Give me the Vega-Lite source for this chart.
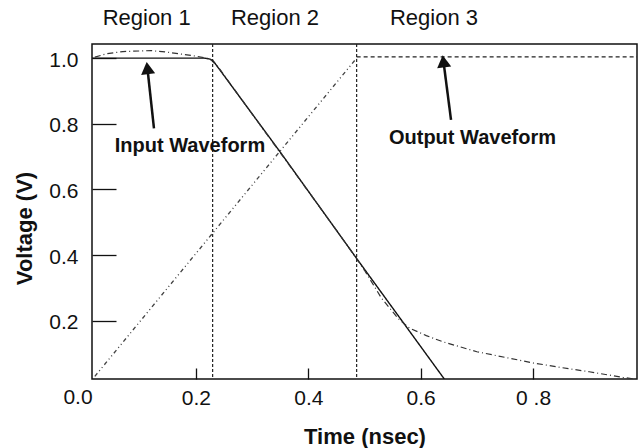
{
  "$schema": "https://vega.github.io/schema/vega-lite/v6.json",
  "width": 545,
  "height": 335,
  "autosize": {"type": "none"},
  "padding": {"left": 92, "top": 44, "right": 1, "bottom": 69},
  "background": "white",
  "config": {
    "view": {"stroke": "#111", "strokeWidth": 1.5},
    "font": "Liberation Sans",
    "axis": {"grid": false, "domain": false, "labelFont": "Liberation Sans", "titleFont": "Liberation Sans", "labelColor": "#111", "titleColor": "#111", "tickColor": "#111"}
  },
  "datasets": {
    "curves": [
      {"series": "Input", "t": 0.015, "v": 1.0},
      {"series": "Input", "t": 0.215, "v": 1.0},
      {"series": "Input", "t": 0.225, "v": 0.997},
      {"series": "Input", "t": 0.231, "v": 0.991},
      {"series": "Input", "t": 0.35, "v": 0.714},
      {"series": "Input", "t": 0.486, "v": 0.39},
      {"series": "Input", "t": 0.642, "v": 0.023},
      {"series": "Ramp", "t": 0.02, "v": 0.031},
      {"series": "Ramp", "t": 0.486, "v": 1.0},
      {"series": "Output", "t": 0.486, "v": 1.004},
      {"series": "Output", "t": 0.985, "v": 1.004},
      {"series": "Tail", "t": 0.02, "v": 1.003},
      {"series": "Tail", "t": 0.04, "v": 1.013},
      {"series": "Tail", "t": 0.07, "v": 1.02},
      {"series": "Tail", "t": 0.12, "v": 1.023},
      {"series": "Tail", "t": 0.15, "v": 1.018},
      {"series": "Tail", "t": 0.175, "v": 1.012},
      {"series": "Tail", "t": 0.2, "v": 1.006},
      {"series": "Tail", "t": 0.225, "v": 0.998},
      {"series": "Tail", "t": 0.24, "v": 0.972},
      {"series": "Tail", "t": 0.3, "v": 0.83},
      {"series": "Tail", "t": 0.4, "v": 0.594},
      {"series": "Tail", "t": 0.45, "v": 0.476},
      {"series": "Tail", "t": 0.48, "v": 0.404},
      {"series": "Tail", "t": 0.5, "v": 0.354},
      {"series": "Tail", "t": 0.53, "v": 0.27},
      {"series": "Tail", "t": 0.56, "v": 0.207},
      {"series": "Tail", "t": 0.58, "v": 0.178},
      {"series": "Tail", "t": 0.61, "v": 0.155},
      {"series": "Tail", "t": 0.64, "v": 0.136},
      {"series": "Tail", "t": 0.7, "v": 0.106},
      {"series": "Tail", "t": 0.75, "v": 0.089},
      {"series": "Tail", "t": 0.8, "v": 0.072},
      {"series": "Tail", "t": 0.85, "v": 0.058},
      {"series": "Tail", "t": 0.9, "v": 0.045},
      {"series": "Tail", "t": 0.96, "v": 0.028},
      {"series": "Tail", "t": 0.985, "v": 0.022}
    ],
    "regions": [{"t": 0.2297}, {"t": 0.486}],
    "regionLabels": [
      {"t": 0.1123, "v": 1.101, "text": "Region 1"},
      {"t": 0.3407, "v": 1.101, "text": "Region 2"},
      {"t": 0.6237, "v": 1.101, "text": "Region 3"}
    ],
    "zeroLabel": [{"t": -0.0099, "v": 0.0, "text": "0.0"}],
    "notes": [
      {"t": 0.1894, "v": 0.715, "text": "Input Waveform"},
      {"t": 0.6922, "v": 0.7385, "text": "Output Waveform"}
    ],
    "arrows": [
      {"t": 0.1253, "v": 0.786, "t2": 0.1136, "v2": 0.9699},
      {"t": 0.654, "v": 0.812, "t2": 0.6405, "v2": 0.9905}
    ]
  },
  "layer": [
    {
      "data": {"name": "curves"},
      "mark": {"type": "line", "clip": true},
      "encoding": {
        "x": {
          "field": "t", "type": "quantitative",
          "scale": {"domain": [0.015, 0.985], "nice": false, "zero": false},
          "axis": {
            "values": [0.2, 0.4, 0.6, 0.8],
            "labelExpr": "datum.value == 0.8 ? '0 .8' : format(datum.value, '.1f')",
            "tickSize": -11,
            "tickWidth": 1.3,
            "labelFlush": false,
            "labelFontSize": 21,
            "labelPadding": 19,
            "title": "Time (nsec)",
            "titleFontSize": 22,
            "titleFontWeight": "bold",
            "titleX": 272.5,
            "titleY": 64,
            "titleBaseline": "alphabetic"
          }
        },
        "y": {
          "field": "v", "type": "quantitative",
          "scale": {"domain": [0.023, 1.043], "nice": false, "zero": false},
          "axis": {
            "values": [0.2, 0.4, 0.6, 0.8, 1.0],
            "format": ".1f",
            "tickSize": -24,
            "tickWidth": 1.3,
            "labelFontSize": 21,
            "labelPadding": 38,
            "labelOffset": 2,
            "title": "Voltage (V)",
            "titleFontSize": 22,
            "titleFontWeight": "bold",
            "titleX": -60.5,
            "titleY": 184,
            "titleBaseline": "alphabetic"
          }
        },
        "detail": {"field": "series"},
        "color": {"field": "series", "type": "nominal", "legend": null,
          "scale": {"domain": ["Input", "Ramp", "Output", "Tail"], "range": ["#111111", "#444444", "#222222", "#333333"]}},
        "strokeDash": {"field": "series", "type": "nominal", "legend": null,
          "scale": {"domain": ["Input", "Ramp", "Output", "Tail"], "range": [[1, 0], [4, 3, 1, 3, 1, 3], [4, 3], [6, 3, 1, 3]]}},
        "strokeWidth": {"field": "series", "type": "nominal", "legend": null,
          "scale": {"domain": ["Input", "Ramp", "Output", "Tail"], "range": [1.4, 1.2, 1.1, 1.2]}}
      }
    },
    {
      "data": {"name": "regions"},
      "mark": {"type": "rule", "color": "#222", "strokeWidth": 1.2, "strokeDash": [3, 2]},
      "encoding": {"x": {"field": "t", "type": "quantitative"}}
    },
    {
      "data": {"name": "regionLabels"},
      "mark": {"type": "text", "fontSize": 22, "color": "#111", "baseline": "alphabetic", "align": "center", "clip": false},
      "encoding": {
        "x": {"field": "t", "type": "quantitative"},
        "y": {"field": "v", "type": "quantitative"},
        "text": {"field": "text"}
      }
    },
    {
      "data": {"name": "zeroLabel"},
      "mark": {"type": "text", "fontSize": 21, "color": "#111", "baseline": "top", "align": "center", "clip": false},
      "encoding": {
        "x": {"field": "t", "type": "quantitative"},
        "y": {"field": "v", "type": "quantitative"},
        "text": {"field": "text"}
      }
    },
    {
      "data": {"name": "notes"},
      "mark": {"type": "text", "fontSize": 20, "fontWeight": "bold", "color": "#111", "baseline": "alphabetic", "align": "center"},
      "encoding": {
        "x": {"field": "t", "type": "quantitative"},
        "y": {"field": "v", "type": "quantitative"},
        "text": {"field": "text"}
      }
    },
    {
      "data": {"name": "arrows"},
      "mark": {"type": "rule", "color": "#111", "strokeWidth": 2.5},
      "encoding": {
        "x": {"field": "t", "type": "quantitative"},
        "y": {"field": "v", "type": "quantitative"},
        "x2": {"field": "t2"},
        "y2": {"field": "v2"}
      }
    },
    {
      "data": {"name": "arrows"},
      "mark": {"type": "point", "shape": "triangle-up", "filled": true, "color": "#111", "opacity": 1, "size": 200, "angle": -7},
      "encoding": {
        "x": {"field": "t2", "type": "quantitative"},
        "y": {"field": "v2", "type": "quantitative"}
      }
    }
  ]
}
